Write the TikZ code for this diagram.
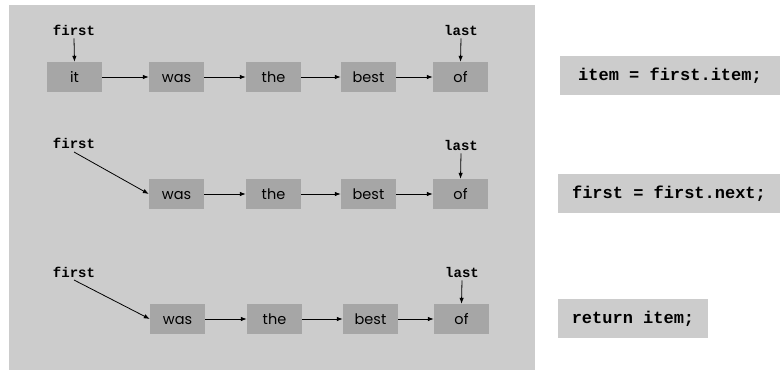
\documentclass[tikz,border=0pt]{standalone}
\usepackage{fontspec}
\setmainfont{Poppins}
\newfontfamily\codefont{Liberation Mono}
\usetikzlibrary{arrows.meta}
\definecolor{panelgray}{HTML}{CCCCCC}
\definecolor{boxgray}{HTML}{A6A6A6}
\tikzset{
  word/.style={fill=boxgray, minimum width=55pt, minimum height=30pt, inner sep=0pt,
    text height=10pt, text depth=0pt, font=\fontsize{14.5}{14.5}\selectfont},
  ptr/.style={inner sep=0pt, font=\codefont\bfseries\fontsize{14}{14}\selectfont},
  code/.style={fill=panelgray, minimum height=39pt, inner sep=0pt,
    font=\codefont\bfseries\fontsize{17}{17}\selectfont},
  link/.style={draw=black, line width=0.8pt, -{Latex[length=6pt,width=4.5pt]}},
}
\begin{document}
\begin{tikzpicture}[x=1pt, y=-1pt]
\useasboundingbox (0,0) rectangle (780,372);
% gray panel behind the three lists
\fill[panelgray] (9,5) rectangle (535,370);

% list before the step
\node[word] (a1) at (74.5,77) {it};
\node[word] (b1) at (176.5,77) {was};
\node[word] (c1) at (273.5,77) {the};
\node[word] (d1) at (368.5,77) {best};
\node[word] (e1) at (460.5,77) {of};
\node[ptr] (f1) at (74,30) {first};
\node[ptr] (l1) at (461,30) {last};
\draw[link] (f1.south) ++(0,3) -- (a1.north);
\draw[link] (l1.south) ++(0,3) -- (e1.north);
\draw[link] (a1) -- (b1);
\draw[link] (b1) -- (c1);
\draw[link] (c1) -- (d1);
\draw[link] (d1) -- (e1);

% list after first moves on
\node[word] (b2) at (176.5,194) {was};
\node[word] (c2) at (273.5,194) {the};
\node[word] (d2) at (368.5,194) {best};
\node[word] (e2) at (460.5,194) {of};
\node[ptr] (f2) at (74,143) {first};
\node[ptr] (l2) at (461,145) {last};
\coordinate (f2s) at (74,152);
\draw[link] (f2s) -- (b2.west);
\draw[link] (l2.south) ++(0,3) -- (e2.north);
\draw[link] (b2) -- (c2);
\draw[link] (c2) -- (d2);
\draw[link] (d2) -- (e2);

% list when the item is returned
\node[word] (b3) at (177.5,319) {was};
\node[word] (c3) at (274.5,319) {the};
\node[word] (d3) at (370.5,319) {best};
\node[word] (e3) at (461.5,319) {of};
\node[ptr] (f3) at (74,272) {first};
\node[ptr] (l3) at (462,272) {last};
\coordinate (f3s) at (74,280);
\draw[link] (f3s) -- (b3.west);
\draw[link] (l3.south) ++(0,3) -- (e3.north);
\draw[link] (b3) -- (c3);
\draw[link] (c3) -- (d3);
\draw[link] (d3) -- (e3);

% code statements
\node[code, minimum width=220pt] (s1) at (670,75.5) {item = first.item;};
\node[code, minimum width=222pt] (s2) at (669,193.5) {first = first.next;};
\node[code, minimum width=150pt] (s3) at (633,318.5) {return item;};
\end{tikzpicture}
\end{document}
